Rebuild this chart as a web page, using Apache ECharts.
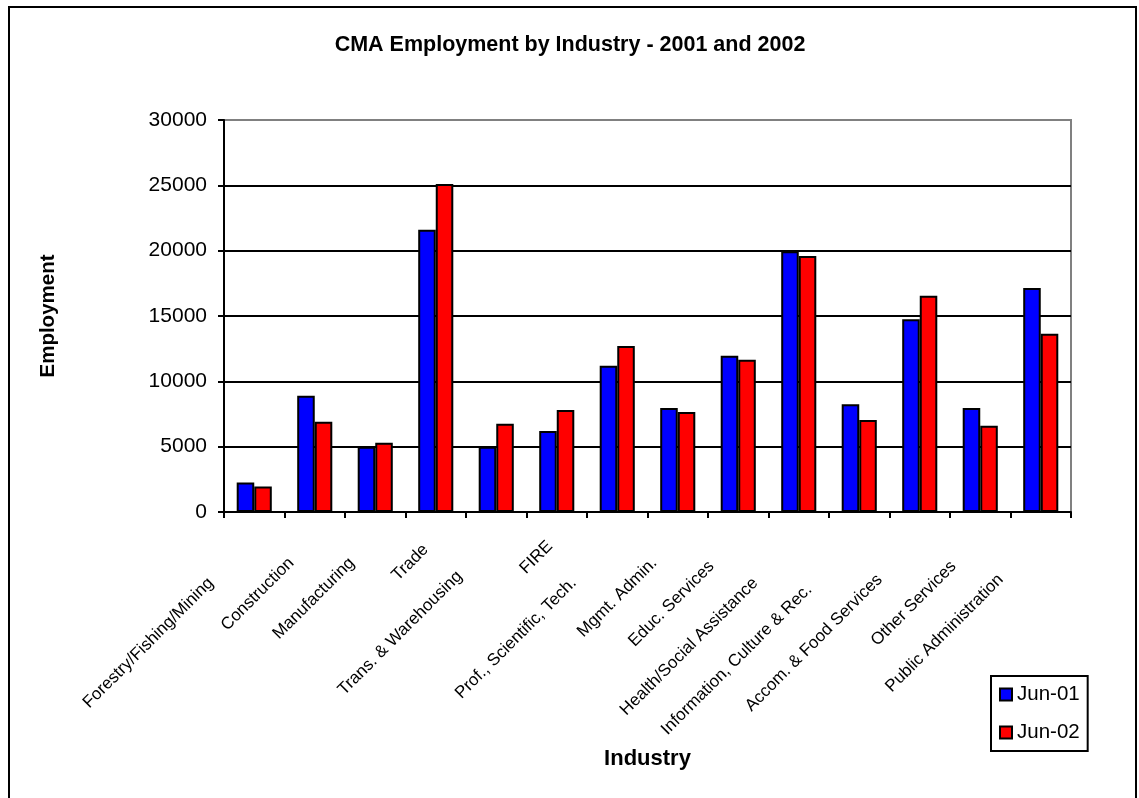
<!DOCTYPE html>
<html lang="en">
<head>
    <meta charset="UTF-8">
    <title>CMA Employment by Industry - 2001 and 2002</title>
    <script src="https://cdn.jsdelivr.net/npm/echarts@6/dist/echarts.min.js"></script>
    <style>
        html, body { margin: 0; padding: 0; background: #fff; }
        #chart { width: 1139px; height: 798px; }
    </style>
</head>
<body>
    <div id="chart"></div>

    <script>
        // data
        var industries = [
            'Forestry/Fishing/Mining', 'Construction', 'Manufacturing', 'Trade',
            'Trans. & Warehousing', 'FIRE', 'Prof., Scientific, Tech.', 'Mgmt. Admin.',
            'Educ. Services', 'Health/Social Assistance', 'Information, Culture & Rec.',
            'Accom. & Food Services', 'Other Services', 'Public Administration'
        ];
        var seriesNames = ['Jun-01', 'Jun-02'];
        var jun01 = [2250, 8900, 5000, 21600, 5000, 6200, 11200, 7950, 11950, 19950, 8250, 14750, 7950, 17150];
        var jun02 = [1950, 6900, 5300, 25100, 6750, 7800, 12700, 7650, 11650, 19600, 7050, 16550, 6600, 13650];
        var yMin = 0, yMax = 30000, yStep = 5000;

        var FONT = '"Liberation Sans", Arial, sans-serif';

        var chart = echarts.init(document.getElementById('chart'));

        function barSeries(name, data, color) {
            return {
                name: name,
                type: 'bar',
                data: data,
                barGap: '0%',
                barCategoryGap: '42%',
                itemStyle: { color: color, borderColor: '#000', borderWidth: 2 }
            };
        }

        var option = {
            backgroundColor: '#fff',
            animation: false,
            textStyle: { fontFamily: FONT },
            title: {
                text: 'CMA Employment by Industry - 2001 and 2002',
                left: 565,
                top: 29,
                textAlign: 'center',
                textStyle: { fontFamily: FONT, fontSize: 21.5, fontWeight: 'bold', color: '#000' }
            },
            legend: {
                data: seriesNames,
                orient: 'vertical',
                left: 991,
                top: 676,
                padding: [8, 8, 8, 8],
                itemGap: 17,
                itemWidth: 12,
                itemHeight: 12,
                icon: 'rect',
                borderColor: '#000',
                borderWidth: 2,
                textStyle: { fontFamily: FONT, fontSize: 20.5, color: '#000' }
            },
            grid: {
                left: 224,
                right: 68,
                top: 120,
                bottom: 286,
                show: true,
                borderColor: '#808080',
                borderWidth: 2,
                backgroundColor: '#fff'
            },
            xAxis: {
                type: 'category',
                data: industries,
                name: 'Industry',
                nameLocation: 'middle',
                nameGap: 236,
                nameMoveOverlap: false,
                nameTextStyle: { fontFamily: FONT, fontSize: 22, fontWeight: 'bold', color: '#000' },
                axisLine: { lineStyle: { color: '#000', width: 2 } },
                axisTick: { show: true, length: 6, lineStyle: { color: '#000', width: 2 } },
                axisLabel: {
                    interval: 0,
                    rotate: 45,
                    margin: 25,
                    fontSize: 17,
                    color: '#000',
                    fontFamily: FONT,
                    // Excel pushes the slanted labels down-left by about a third of their length
                    formatter: function (v) {
                        return v + '\u00a0'.repeat(Math.round(v.length * 0.55));
                    }
                }
            },
            yAxis: {
                type: 'value',
                min: yMin,
                max: yMax,
                interval: yStep,
                name: 'Employment',
                nameLocation: 'middle',
                nameRotate: 90,
                nameGap: 165,
                nameMoveOverlap: false,
                nameTextStyle: { fontFamily: FONT, fontSize: 20.5, fontWeight: 'bold', color: '#000' },
                axisLine: { show: true, lineStyle: { color: '#000', width: 2 } },
                axisTick: { show: true, length: 6, lineStyle: { color: '#000', width: 2 } },
                axisLabel: {
                    margin: 17, fontSize: 21, color: '#000', fontFamily: FONT,
                    formatter: function (v) { return String(v); }
                },
                splitLine: { show: true, showMaxLine: false, lineStyle: { color: '#000', width: 2 } }
            },
            graphic: [{
                type: 'rect',
                silent: true,
                z: -1,
                shape: { x: 9, y: 7, width: 1127, height: 800 },
                style: { fill: 'none', stroke: '#000', lineWidth: 2 }
            }],
            series: [
                barSeries(seriesNames[0], jun01, '#0000ff'),
                barSeries(seriesNames[1], jun02, '#ff0000')
            ]
        };

        chart.setOption(option);
    </script>
</body>
</html>
